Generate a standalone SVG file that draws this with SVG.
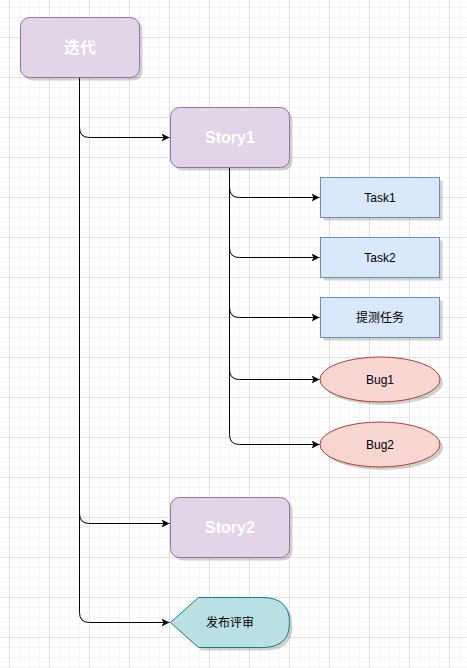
<svg xmlns="http://www.w3.org/2000/svg" width="467" height="668" viewBox="0 0 467 668">
<defs>
<pattern id="minor" x="9" y="7" width="10" height="10" patternUnits="userSpaceOnUse">
<path d="M0.5 0V10M0 0.5H10" stroke="#f5f5f5" stroke-width="1" fill="none"/>
</pattern>
<pattern id="major" x="9" y="37" width="40" height="40" patternUnits="userSpaceOnUse">
<path d="M0.5 0V40M0 0.5H40" stroke="#e2e2e2" stroke-width="1" fill="none"/>
</pattern>
<marker id="arr" markerWidth="10" markerHeight="10" refX="8" refY="4" orient="auto" markerUnits="userSpaceOnUse">
<path d="M0 0L8 4L0 8L2 4Z" fill="#000"/>
</marker>
</defs>
<style>
.edge{fill:none;stroke:#000;stroke-width:1;marker-end:url(#arr)}
.sh{fill:#000;opacity:0.18}
.purple{fill:#e1d5e7;stroke:#9673a6;stroke-width:1}
.blue{fill:#dae8fc;stroke:#6c8ebf;stroke-width:1}
.red{fill:#f8d6d2;stroke:#ae4132;stroke-width:1}
.teal{fill:#b9e0e2;stroke:#0e8088;stroke-width:1}
.tw{font-family:"Liberation Sans","Noto Sans CJK SC",sans-serif;font-size:16px;font-weight:bold;fill:#fff;text-anchor:middle;dominant-baseline:central}
.tb{font-family:"Liberation Sans","Noto Sans CJK SC",sans-serif;font-size:12px;fill:#000;text-anchor:middle;dominant-baseline:central}
</style>
<rect width="467" height="668" fill="#fff"/>
<rect width="467" height="668" fill="url(#minor)"/>
<rect width="467" height="668" fill="url(#major)"/>
<g id="connectors">
<path class="edge" d="M79.5 77.5V127.5Q79.5 137.5 89.5 137.5H169.5"/>
<path class="edge" d="M79.5 77.5V513.5Q79.5 523.5 89.5 523.5H169.5"/>
<path class="edge" d="M79.5 77.5V612.5Q79.5 622.5 89.5 622.5H169.5"/>
<path class="edge" d="M229.5 167.5V187.5Q229.5 197.5 239.5 197.5H319.5"/>
<path class="edge" d="M229.5 167.5V247.5Q229.5 257.5 239.5 257.5H319.5"/>
<path class="edge" d="M229.5 167.5V307.5Q229.5 317.5 239.5 317.5H319.5"/>
<path class="edge" d="M229.5 167.5V369.5Q229.5 379.5 239.5 379.5H319.5"/>
<path class="edge" d="M229.5 167.5V434.5Q229.5 444.5 239.5 444.5H319.5"/>
</g>
<g id="iteration">
<rect class="sh" x="23.5" y="20.5" width="119" height="60" rx="9"/>
<rect class="purple" x="20.5" y="17.5" width="119" height="60" rx="9"/>
<text class="tw" x="80" y="47.5">迭代</text>
</g>
<g id="story1">
<rect class="sh" x="173.5" y="110.5" width="119" height="60" rx="9"/>
<rect class="purple" x="170.5" y="107.5" width="119" height="60" rx="9"/>
<text class="tw" x="230" y="137.5">Story1</text>
</g>
<g id="task1">
<rect class="sh" x="323.5" y="180.5" width="119" height="40"/>
<rect class="blue" x="320.5" y="177.5" width="119" height="40"/>
<text class="tb" x="380" y="197.5">Task1</text>
</g>
<g id="task2">
<rect class="sh" x="323.5" y="240.5" width="119" height="40"/>
<rect class="blue" x="320.5" y="237.5" width="119" height="40"/>
<text class="tb" x="380" y="257.5">Task2</text>
</g>
<g id="test-task">
<rect class="sh" x="323.5" y="300.5" width="119" height="40"/>
<rect class="blue" x="320.5" y="297.5" width="119" height="40"/>
<text class="tb" x="380" y="317.5">提测任务</text>
</g>
<g id="bug1">
<ellipse class="sh" cx="383" cy="382.5" rx="60" ry="22.5"/>
<ellipse class="red" cx="380" cy="379.5" rx="60" ry="22.5"/>
<text class="tb" x="380" y="379.5">Bug1</text>
</g>
<g id="bug2">
<ellipse class="sh" cx="383" cy="447.5" rx="60" ry="22.5"/>
<ellipse class="red" cx="380" cy="444.5" rx="60" ry="22.5"/>
<text class="tb" x="380" y="444.5">Bug2</text>
</g>
<g id="story2">
<rect class="sh" x="173.5" y="500.5" width="119" height="60" rx="9"/>
<rect class="purple" x="170.5" y="497.5" width="119" height="60" rx="9"/>
<text class="tw" x="230" y="527.5">Story2</text>
</g>
<g id="release-review">
<path class="sh" d="M173.5 625.5L201.5 600.5H265.5Q292.5 600.5 292.5 625.5Q292.5 650.5 265.5 650.5H201.5Z"/>
<path class="teal" d="M170.5 622.5L198.5 597.5H262.5Q289.5 597.5 289.5 622.5Q289.5 647.5 262.5 647.5H198.5Z"/>
<text class="tb" x="230" y="622.5">发布评审</text>
</g>
</svg>
